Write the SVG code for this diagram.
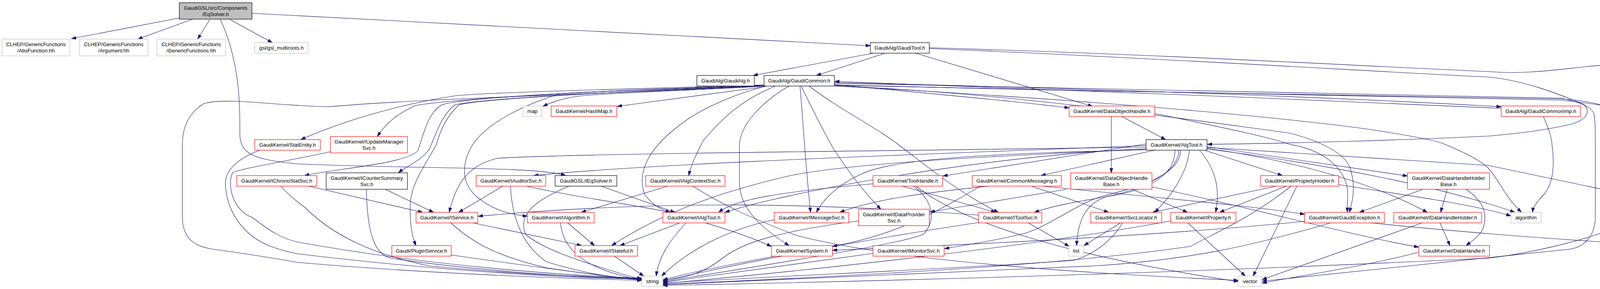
<svg xmlns="http://www.w3.org/2000/svg" width="4570" height="739" viewBox="0 0 4570 739">
<style>
rect{fill:#fff;stroke-width:1.2}
.k{stroke:#000}
.r{stroke:#f00}
.g{stroke:#bfbfbf}
.root{fill:#bfbfbf;stroke:#000}
text{font-family:"Liberation Sans",Arial,sans-serif;font-size:13.3px;text-anchor:middle;fill:#000}
#edges path{fill:none;stroke:#191970;stroke-width:1.1;marker-end:url(#a)}
</style>
<defs>
<marker id="a" markerWidth="13" markerHeight="9" refX="12" refY="4.5" orient="auto" markerUnits="userSpaceOnUse">
<path d="M0,0.5 L12,4.5 L0,8.5 z" fill="#191970" stroke="#191970" stroke-width="1"/>
</marker>
</defs>
<rect x="0" y="0" width="4570" height="739" style="fill:#fff;stroke:none"/>
<g id="edges">
<path d="M459,46 L183,99"/>
<path d="M493,49 L353,100"/>
<path d="M537,50 L506,100"/>
<path d="M589,50 L697,109"/>
<path d="M645,34 L2228,117"/>
<path d="M564,49 C610,150 615,250 614,340 C613,395 650,408 762,419 C1050,432 1380,425 1448,449"/>
<path d="M2236,136 L1928,193"/>
<path d="M2266,136 L2090,193"/>
<path d="M2344,136 L2797,272"/>
<path d="M2379,122 C3000,140 3550,172 3810,183 C3950,195 4060,160 4216,162 C4330,166 4382,230 4386,300 L4386,370 C4384,440 4320,500 4242,543"/>
<path d="M2379,124 C3000,150 3550,185 3810,197 C3900,205 3990,240 4055,267 C4072,285 4064,305 4024,317 C3950,335 3870,343 3810,348 C3600,358 3300,367 3091,369"/>
<path d="M1957,220 C1700,235 1100,250 840,273 C700,270 580,248 522,265 C480,290 467,330 467,370 L467,562 C470,612 500,630 544,637 C640,650 700,660 762,671 C1100,700 1450,712 1643,717"/>
<path d="M1957,217 C1600,228 1250,236 1165,245 C1050,262 900,300 770,357"/>
<path d="M1957,218 C1500,232 1150,254 1063,270 C1020,290 990,312 966,349"/>
<path d="M1958,219 C1500,232 1190,250 1131,268 C1095,290 1085,340 1070,385 C1040,420 850,432 780,449"/>
<path d="M1958,220 C1520,236 1210,255 1165,268 C1135,290 1120,330 1100,380 C1080,410 1040,425 1020,442"/>
<path d="M1959,220 C1520,236 1220,255 1175,268 C1140,300 1125,340 1117,370 C1090,420 1050,470 1050,530 C1050,570 1053,600 1065,628"/>
<path d="M1960,220 C1700,228 1480,235 1433,240 C1350,265 1250,310 1210,370 C1180,420 1180,470 1224,506 C1260,535 1300,548 1350,553"/>
<path d="M1962,220 C1800,230 1500,240 1467,248 C1430,255 1410,262 1390,272"/>
<path d="M1956,222 L1580,272"/>
<path d="M1962,220 C1880,240 1790,280 1740,320 C1660,380 1630,440 1650,496 C1665,520 1690,535 1716,543"/>
<path d="M1985,220 C1900,255 1850,300 1800,360 C1780,400 1770,420 1763,449"/>
<path d="M2020,220 C1950,260 1895,320 1893,370 L1893,470 C1895,540 1960,590 2020,628"/>
<path d="M2048,220 C2055,300 2062,420 2075,543"/>
<path d="M2051,220 C2090,300 2120,360 2140,390 C2180,450 2220,500 2255,535"/>
<path d="M2071,220 C2150,280 2250,330 2300,370 C2380,430 2450,490 2556,543"/>
<path d="M2136,216 C2300,232 2600,258 2737,276"/>
<path d="M2136,211 C2600,222 3300,242 3843,273"/>
<path d="M2136,217 C2800,235 3600,248 3995,253 C4080,258 4120,272 4150,292 C4178,314 4195,335 4206,357"/>
<path d="M2136,218 C3000,235 3700,246 3995,256 C4200,276 4380,330 4434,370 C4520,430 4566,500 4566,552 C4566,590 4530,610 4495,628"/>
<path d="M2136,213 C3000,228 3700,240 3995,251 C4050,262 4075,275 4080,290 C4084,305 4084,330 4084,370 L4084,560 C4082,600 4060,630 4020,637 C3700,672 3400,702 3231,719"/>
<path d="M2136,219 C2600,240 3000,300 3300,340 C3360,355 3440,385 3456,429 C3470,470 3465,510 3454,543"/>
<path d="M2136,220 C2700,250 3200,290 3500,330 C3600,345 3680,360 3699,369 C3750,390 3790,410 3810,430 C3838,460 3850,500 3895,543"/>
<path d="M3843,277 C3300,250 2600,228 2137,208"/>
<path d="M3951,298 C3965,330 3972,350 3973,369 C3980,420 3978,470 3950,500 C3935,515 3925,530 3923,543"/>
<path d="M2872,298 L2984,357"/>
<path d="M2845,298 L2845,442"/>
<path d="M2956,290 C3100,320 3250,350 3301,369 C3378,382 3440,420 3450,486 L3449,543"/>
<path d="M2730,484 L2381,542"/>
<path d="M2898,484 L3040,543"/>
<path d="M2949,478 C3200,530 3450,600 3632,632"/>
<path d="M2934,372 C2500,390 1700,415 1366,449"/>
<path d="M2934,376 C2400,385 1450,392 1272,405 C1190,425 1165,480 1150,543"/>
<path d="M2934,380 C2500,400 2000,495 1856,543"/>
<path d="M2934,383 C2600,392 2300,400 2205,445 C2150,470 2110,505 2090,543"/>
<path d="M2934,368 L2414,450"/>
<path d="M2960,383 L2665,449"/>
<path d="M3008,383 C3008,440 2960,480 2850,500 C2760,515 2700,525 2648,543"/>
<path d="M3018,383 C3018,450 2900,490 2835,502 C2780,520 2760,560 2756,628"/>
<path d="M3022,383 C3025,450 2900,482 2821,502 C2760,520 2700,570 2626,596 C2550,615 2480,625 2418,636"/>
<path d="M3045,383 C3040,440 3000,500 2956,543"/>
<path d="M3070,383 C3110,430 3125,480 3112,543"/>
<path d="M3080,383 L3283,449"/>
<path d="M3090,375 L3603,450"/>
<path d="M3090,379 C3300,410 3500,460 3654,543"/>
<path d="M3090,377 L3810,423 L4384,543"/>
<path d="M3090,381 C3400,420 3700,480 3878,543"/>
<path d="M2934,382 C2500,400 2150,420 2010,452 C1850,490 1700,540 1566,628"/>
<path d="M2310,476 L2549,543"/>
<path d="M2339,476 C2385,510 2400,560 2364,599 C2330,615 2200,640 1697,720"/>
<path d="M2345,476 C2450,560 2700,650 3170,720"/>
<path d="M2235,470 C2000,490 1880,510 1840,543"/>
<path d="M2530,476 C2400,490 2250,505 2150,543"/>
<path d="M2641,476 L2838,543"/>
<path d="M2670,476 C2900,500 3200,525 3340,548"/>
<path d="M2510,476 C2400,540 2300,600 2131,630"/>
<path d="M2198,565 C2000,590 1900,620 1850,660 C1800,700 1750,712 1697,716"/>
<path d="M2631,569 L2737,630"/>
<path d="M2505,569 C2300,600 2000,650 1697,718"/>
<path d="M2505,550 C2100,520 1700,510 1224,553"/>
<path d="M2870,569 L2775,628"/>
<path d="M2874,569 C2845,619 2796,652 2748,666 C2400,690 2000,705 1697,724"/>
<path d="M2235,648 C2000,680 1850,700 1697,722"/>
<path d="M3040,569 L3188,706"/>
<path d="M2997,565 C2700,620 2200,680 1697,725"/>
<path d="M3293,476 L3122,543"/>
<path d="M3320,476 L3208,706"/>
<path d="M3305,476 C3200,560 3100,600 3048,630 C2700,680 2200,705 1697,727"/>
<path d="M3427,472 C3600,500 3760,520 3868,552"/>
<path d="M3267,476 C3150,500 3048,522 2950,543"/>
<path d="M3500,569 C3800,600 4100,620 4354,634"/>
<path d="M3340,566 C3000,600 2500,625 2131,640"/>
<path d="M3410,569 C3200,630 3048,664 2800,680 C2400,700 2000,712 1697,728"/>
<path d="M3686,569 L3712,628"/>
<path d="M3643,569 L3231,715"/>
<path d="M3643,484 L3480,543"/>
<path d="M3705,484 L3688,543"/>
<path d="M3753,484 C3791,509 3812,542 3796,586 C3785,605 3770,615 3753,628"/>
<path d="M3632,645 C3500,680 3300,710 3231,724"/>
<path d="M4210,569 L4204,628"/>
<path d="M4245,569 L4410,628"/>
<path d="M4225,569 C4260,620 4300,660 4365,706"/>
<path d="M4172,569 C4050,620 3900,650 3810,660 C3000,700 2200,720 1697,730"/>
<path d="M4438,569 L4442,628"/>
<path d="M4433,655 L4396,706"/>
<path d="M4217,383 L4212,543"/>
<path d="M668,383 C620,400 576,430 577,470 C580,540 620,600 690,629 C720,640 740,645 762,649 C1100,690 1450,712 1643,713"/>
<path d="M846,388 C720,415 610,432 595,442 C580,480 600,540 646,556 C690,590 720,610 762,619 C1100,680 1450,705 1643,711"/>
<path d="M790,476 L1082,543"/>
<path d="M719,476 C740,500 760,515 780,530 C850,600 950,650 1100,680 C1300,700 1500,708 1643,712"/>
<path d="M986,484 L1110,543"/>
<path d="M938,484 C940,600 960,650 1000,660 C1200,690 1450,708 1643,714"/>
<path d="M1287,476 L1174,543"/>
<path d="M1307,476 C1310,560 1340,630 1400,670 C1500,700 1580,712 1643,716"/>
<path d="M1348,476 C1450,500 1600,520 1700,540 C1850,580 1930,610 1975,630"/>
<path d="M1539,476 L1728,543"/>
<path d="M1457,476 C1345,522 1331,559 1345,599 C1384,632 1457,662 1643,715"/>
<path d="M1709,476 L1488,543"/>
<path d="M1774,476 C1850,525 1930,560 2039,602 C2300,670 2800,700 3170,717"/>
<path d="M1206,569 L1489,628"/>
<path d="M1153,569 C1200,610 1250,650 1400,685 C1500,700 1580,710 1643,715"/>
<path d="M1452,569 L1522,628"/>
<path d="M1435,569 C1440,640 1500,690 1643,716"/>
<path d="M1743,569 L1587,628"/>
<path d="M1757,569 C1710,620 1685,660 1680,706"/>
<path d="M1573,655 L1648,706"/>
<path d="M1155,652 C1350,680 1500,700 1643,716"/>
<path d="M1982,562 C1864,586 1760,640 1694,706"/>
<path d="M1985,655 C1850,680 1750,700 1697,716"/>
</g>
<g id="n0"><rect class="root" x="459" y="7" width="186" height="42"/><text x="552" y="24.5">GaudiGSL/src/Components</text><text x="552" y="40.5">/EqSolver.h</text></g>
<g id="n1"><rect class="g" x="5" y="100" width="174" height="43"/><text x="92" y="117.5">CLHEP/GenericFunctions</text><text x="92" y="133.5">/AbsFunction.hh</text></g>
<g id="n2"><rect class="g" x="203" y="100" width="176" height="43"/><text x="291" y="117.5">CLHEP/GenericFunctions</text><text x="291" y="133.5">/Argument.hh</text></g>
<g id="n3"><rect class="g" x="402" y="100" width="175" height="43"/><text x="489.5" y="117.5">CLHEP/GenericFunctions</text><text x="489.5" y="133.5">/GenericFunctions.hh</text></g>
<g id="n4"><rect class="g" x="652" y="109" width="137" height="27"/><text x="720.5" y="127">gsl/gsl_multiroots.h</text></g>
<g id="n5"><rect class="k" x="2228" y="109" width="151" height="27"/><text x="2303.5" y="127">GaudiAlg/GaudiTool.h</text></g>
<g id="n6"><rect class="k" x="1784" y="193" width="147" height="27"/><text x="1857.5" y="211">GaudiAlg/GaudiAlg.h</text></g>
<g id="n7"><rect class="k" x="1956" y="193" width="180" height="27"/><text x="2046" y="211">GaudiAlg/GaudiCommon.h</text></g>
<g id="n8"><rect class="g" x="1339" y="271" width="48" height="27"/><text x="1363" y="289">map</text></g>
<g id="n9"><rect class="r" x="1411" y="271" width="168" height="27"/><text x="1495" y="289">GaudiKernel/HashMap.h</text></g>
<g id="n10"><rect class="r" x="2737" y="271" width="219" height="27"/><text x="2846.5" y="289">GaudiKernel/DataObjectHandle.h</text></g>
<g id="n11"><rect class="r" x="3843" y="271" width="203" height="27"/><text x="3944.5" y="289">GaudiAlg/GaudiCommonImp.h</text></g>
<g id="n12"><rect class="r" x="652" y="357" width="168" height="27"/><text x="736" y="375">GaudiKernel/StatEntity.h</text></g>
<g id="n13"><rect class="r" x="846" y="349" width="197" height="42"/><text x="944.5" y="366.5">GaudiKernel/IUpdateManager</text><text x="944.5" y="382.5">Svc.h</text></g>
<g id="n14"><rect class="k" x="2934" y="357" width="156" height="27"/><text x="3012" y="375">GaudiKernel/AlgTool.h</text></g>
<g id="n15"><rect class="r" x="4121" y="357" width="193" height="27"/><text x="4217.5" y="375">GaudiKernel/SmartDataPtr.h</text></g>
<g id="n16"><rect class="r" x="606" y="449" width="205" height="27"/><text x="708.5" y="467">GaudiKernel/IChronoStatSvc.h</text></g>
<g id="n17"><rect class="k" x="835" y="442" width="208" height="42"/><text x="939" y="459.5">GaudiKernel/ICounterSummary</text><text x="939" y="475.5">Svc.h</text></g>
<g id="n18"><rect class="r" x="1219" y="449" width="178" height="27"/><text x="1308" y="467">GaudiKernel/IAuditorSvc.h</text></g>
<g id="n19"><rect class="k" x="1421" y="449" width="158" height="27"/><text x="1500" y="467">GaudiGSL/IEqSolver.h</text></g>
<g id="n20"><rect class="r" x="1653" y="449" width="203" height="27"/><text x="1754.5" y="467">GaudiKernel/IAlgContextSvc.h</text></g>
<g id="n21"><rect class="r" x="2235" y="449" width="178" height="27"/><text x="2324" y="467">GaudiKernel/ToolHandle.h</text></g>
<g id="n22"><rect class="r" x="2489" y="449" width="228" height="27"/><text x="2603" y="467">GaudiKernel/CommonMessaging.h</text></g>
<g id="n23"><rect class="r" x="2741" y="442" width="208" height="42"/><text x="2845" y="459.5">GaudiKernel/DataObjectHandle</text><text x="2845" y="475.5">Base.h</text></g>
<g id="n24"><rect class="r" x="3227" y="449" width="200" height="27"/><text x="3327" y="467">GaudiKernel/PropertyHolder.h</text></g>
<g id="n25"><rect class="r" x="3603" y="442" width="210" height="42"/><text x="3708" y="459.5">GaudiKernel/DataHandleHolder</text><text x="3708" y="475.5">Base.h</text></g>
<g id="n26"><rect class="r" x="1065" y="543" width="158" height="27"/><text x="1144" y="561">GaudiKernel/IService.h</text></g>
<g id="n27"><rect class="r" x="1350" y="543" width="171" height="27"/><text x="1435.5" y="561">GaudiKernel/IAlgorithm.h</text></g>
<g id="n28"><rect class="r" x="1697" y="543" width="159" height="27"/><text x="1776.5" y="561">GaudiKernel/IAlgTool.h</text></g>
<g id="n29"><rect class="r" x="1982" y="543" width="191" height="27"/><text x="2077.5" y="561">GaudiKernel/IMessageSvc.h</text></g>
<g id="n30"><rect class="r" x="2198" y="535" width="181" height="42"/><text x="2288.5" y="552.5">GaudiKernel/IDataProvider</text><text x="2288.5" y="568.5">Svc.h</text></g>
<g id="n31"><rect class="r" x="2505" y="543" width="162" height="27"/><text x="2586" y="561">GaudiKernel/IToolSvc.h</text></g>
<g id="n32"><rect class="r" x="2792" y="543" width="182" height="27"/><text x="2883" y="561">GaudiKernel/ISvcLocator.h</text></g>
<g id="n33"><rect class="r" x="2997" y="543" width="167" height="27"/><text x="3080.5" y="561">GaudiKernel/IProperty.h</text></g>
<g id="n34"><rect class="r" x="3340" y="543" width="204" height="27"/><text x="3442" y="561">GaudiKernel/GaudiException.h</text></g>
<g id="n35"><rect class="r" x="3568" y="543" width="225" height="27"/><text x="3680.5" y="561">GaudiKernel/IDataHandleHolder.h</text></g>
<g id="n36"><rect class="g" x="3868" y="543" width="77" height="27"/><text x="3906.5" y="561">algorithm</text></g>
<g id="n37"><rect class="k" x="4122" y="543" width="177" height="27"/><text x="4210.5" y="561">GaudiKernel/DataObject.h</text></g>
<g id="n38"><rect class="r" x="4324" y="543" width="226" height="27"/><text x="4437" y="561">GaudiKernel/DataObjIDProperty.h</text></g>
<g id="n39"><rect class="r" x="1003" y="628" width="152" height="27"/><text x="1079" y="646">Gaudi/PluginService.h</text></g>
<g id="n40"><rect class="r" x="1472" y="628" width="160" height="27"/><text x="1552" y="646">GaudiKernel/IStateful.h</text></g>
<g id="n41"><rect class="r" x="1975" y="628" width="156" height="27"/><text x="2053" y="646">GaudiKernel/System.h</text></g>
<g id="n42"><rect class="r" x="2235" y="628" width="182" height="27"/><text x="2326" y="646">GaudiKernel/IMonitorSvc.h</text></g>
<g id="n43"><rect class="g" x="2736" y="628" width="38" height="27"/><text x="2755" y="646">list</text></g>
<g id="n44"><rect class="r" x="3632" y="628" width="181" height="27"/><text x="3722.5" y="646">GaudiKernel/DataHandle.h</text></g>
<g id="n45"><rect class="r" x="4121" y="628" width="157" height="27"/><text x="4199.5" y="646">GaudiKernel/ClassID.h</text></g>
<g id="n46"><rect class="r" x="4354" y="628" width="181" height="27"/><text x="4444.5" y="646">GaudiKernel/StatusCode.h</text></g>
<g id="n47"><rect class="g" x="1643" y="706" width="54" height="27"/><text x="1670" y="724">string</text></g>
<g id="n48"><rect class="g" x="3170" y="706" width="60" height="27"/><text x="3200" y="724">vector</text></g>
<g id="n49"><rect class="g" x="4345" y="706" width="71" height="27"/><text x="4380.5" y="724">ostream</text></g>
</svg>
